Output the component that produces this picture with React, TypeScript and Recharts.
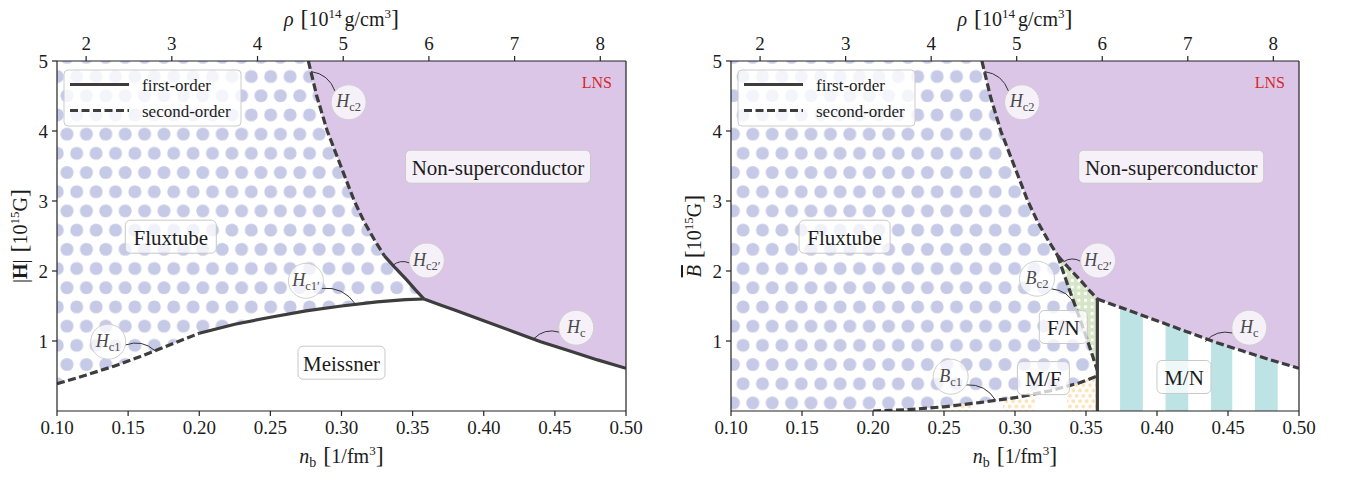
import React from 'react';
import { ComposedChart, Area, Line, XAxis, YAxis, ReferenceDot, ReferenceLine } from 'recharts';

// axes
const nbTicks = [0.1, 0.15, 0.2, 0.25, 0.3, 0.35, 0.4, 0.45, 0.5];
const fieldTicks = [1, 2, 3, 4, 5];
const rhoTicks = [2, 3, 4, 5, 6, 7, 8];
const RHO_PER_NB = 16.6; // 10^14 g/cm^3 per 1/fm^3
const FIELD_MAX = 5;

// phase boundaries: [n_b, field in 10^15 G]
const hc1 = [[0.1, 0.39], [0.12, 0.51], [0.14, 0.64], [0.16, 0.79], [0.18, 0.95], [0.2, 1.11]];
const hc1p = [[0.2, 1.11], [0.225, 1.24], [0.25, 1.34], [0.275, 1.43], [0.3, 1.5], [0.325, 1.56], [0.345, 1.59], [0.358, 1.6]];
const hc2 = [[0.2767, 5], [0.2826, 4.5], [0.29, 4.0], [0.2995, 3.5], [0.309, 3.0], [0.316, 2.7], [0.323, 2.45], [0.33, 2.22]];
const hc2p = [[0.33, 2.22], [0.338, 2.04], [0.346, 1.87], [0.352, 1.73], [0.358, 1.6]];
const hc = [[0.358, 1.6], [0.37, 1.51], [0.38, 1.44], [0.4, 1.29], [0.42, 1.14], [0.44, 0.99], [0.46, 0.86], [0.48, 0.73], [0.5, 0.61]];
const bc1 = [[0.2, 0], [0.225, 0.02], [0.25, 0.06], [0.275, 0.12], [0.3, 0.19], [0.325, 0.29], [0.345, 0.4], [0.358, 0.5]];
const bc2 = [[0.33, 2.22], [0.338, 1.75], [0.346, 1.3], [0.352, 0.95], [0.358, 0.58]];
const mfmn = [[0.358, 0], [0.358, 1.6]];

// domain stripes (n_b ranges)
const mfStripes = [[0.2015, 0.224], [0.2465, 0.269], [0.2915, 0.314], [0.3366, 0.358]];
const mnStripes = [[0.374, 0.39], [0.406, 0.422], [0.438, 0.453], [0.469, 0.485]];

const FONT = '"Liberation Serif", "DejaVu Serif", serif';
const INK = '#1c1c1c';
const LINE = '#3d3d3d';
const C = {
  purple: '#dcc6e8',
  dots: '#c7cae7',
  cyan: '#bde3e5',
  green: '#d5e5c6',
  orange: '#fde2b6',
};
const DASH = '8 3.5';
const LW = 3.2;

type Pt = { n: number; h: number };
const pts = (a: number[][]): Pt[] => a.map(([n, h]) => ({ n, h }));
const band = (lower: Pt[]) => lower.map((p) => ({ n: p.n, lo: p.h, hi: FIELD_MAX }));
const between = (lower: Pt[], upper: Pt[]) => lower.map((p, i) => ({ n: p.n, lo: p.h, hi: upper[i].h }));
const stripe = ([a, b]: number[]) => [
  { n: a, lo: 0, hi: FIELD_MAX },
  { n: b, lo: 0, hi: FIELD_MAX },
];

const boxes = {
  left: [
    { text: 'Non-superconductor', n: 0.41, h: 3.49, w: 185 },
    { text: 'Fluxtube', n: 0.18, h: 2.49, w: 91 },
    { text: 'Meissner', n: 0.3, h: 0.69, w: 87 },
  ],
  right: [
    { text: 'Non-superconductor', n: 0.41, h: 3.49, w: 185 },
    { text: 'Fluxtube', n: 0.18, h: 2.49, w: 91 },
    { text: 'F/N', n: 0.334, h: 1.2, w: 48 },
    { text: 'M/F', n: 0.32, h: 0.47, w: 52 },
    { text: 'M/N', n: 0.419, h: 0.486, w: 54 },
  ],
};

const bubbles = {
  left: [
    { sym: 'H', sub: 'c2', at: [0.305, 4.41], to: [0.2785, 4.85], bend: 0.3 },
    { sym: 'H', sub: 'c2′', at: [0.36, 2.15], to: [0.336, 2.08], bend: 0.3 },
    { sym: 'H', sub: 'c1′', at: [0.275, 1.86], to: [0.31, 1.52], bend: -0.3 },
    { sym: 'H', sub: 'c1', at: [0.136, 0.99], to: [0.169, 0.86], bend: -0.3 },
    { sym: 'H', sub: 'c', at: [0.465, 1.19], to: [0.435, 1.03], bend: 0.3 },
  ],
  right: [
    { sym: 'H', sub: 'c2', at: [0.305, 4.41], to: [0.2785, 4.85], bend: 0.3 },
    { sym: 'H', sub: 'c2′', at: [0.3585, 2.15], to: [0.334, 2.13], bend: 0.3 },
    { sym: 'B', sub: 'c2', at: [0.3155, 1.89], to: [0.3425, 1.5], bend: -0.3 },
    { sym: 'B', sub: 'c1', at: [0.2547, 0.49], to: [0.2865, 0.15], bend: -0.3 },
    { sym: 'H', sub: 'c', at: [0.465, 1.19], to: [0.434, 0.99], bend: 0.3 },
  ],
};

function TextBox({ cx, cy, text, w }: any) {
  return (
    <g>
      <rect x={cx - w / 2} y={cy - 16.5} width={w} height={33} rx={5} fill="#fff" fillOpacity={0.75} stroke="#c9c9c9" />
      <text x={cx} y={cy + 1} textAnchor="middle" dominantBaseline="central" fontSize={21} fill={INK} fontFamily={FONT}>
        {text}
      </text>
    </g>
  );
}

function Bubble({ x1, y1, x2, y2, sym, sub, bend }: any) {
  const r = 17.5;
  const dx = x2 - x1;
  const dy = y2 - y1;
  const len = Math.hypot(dx, dy) || 1;
  const sx = x1 + (dx / len) * r;
  const sy = y1 + (dy / len) * r;
  const ex = x2 - sx;
  const ey = y2 - sy;
  const qx = (sx + x2) / 2 - bend * ey;
  const qy = (sy + y2) / 2 + bend * ex;
  return (
    <g>
      <path d={`M${sx},${sy} Q${qx},${qy} ${x2},${y2}`} fill="none" stroke="#333" strokeWidth={1} />
      <ellipse cx={x1} cy={y1} rx={r} ry={r} fill="#fff" fillOpacity={0.75} stroke="#cfcfcf" />
      <text x={x1} y={y1 + 5} textAnchor="middle" fontFamily={FONT} fill="#4a4a4a">
        <tspan fontSize={18} fontStyle="italic">{sym}</tspan>
        <tspan fontSize={12.5} dy={4}>{sub}</tspan>
      </text>
    </g>
  );
}

function LegendBox({ cx, cy }: any) {
  const x = cx + 7;
  const y = cy + 9;
  return (
    <g fontFamily={FONT}>
      <rect x={x} y={y} width={177} height={56} rx={4} fill="#fff" fillOpacity={0.8} stroke="#cccccc" />
      <line x1={x + 6} x2={x + 65} y1={y + 14.5} y2={y + 14.5} stroke={LINE} strokeWidth={LW} />
      <text x={x + 78} y={y + 15} dominantBaseline="central" fontSize={17} fill={INK}>first-order</text>
      <line x1={x + 6} x2={x + 65} y1={y + 40.5} y2={y + 40.5} stroke={LINE} strokeWidth={LW} strokeDasharray={DASH} />
      <text x={x + 78} y={y + 41} dominantBaseline="central" fontSize={17} fill={INK}>second-order</text>
    </g>
  );
}

const TopTitle = ({ viewBox }: any) => (
  <text x={viewBox.x + viewBox.width / 2} y={viewBox.y + viewBox.height - 35} textAnchor="middle" fontFamily={FONT} fontSize={20} fill={INK}>
    <tspan fontStyle="italic">ρ</tspan>
    <tspan dx={7} fontSize={24}>[</tspan>
    <tspan>10</tspan>
    <tspan dy={-8} fontSize={13}>14</tspan>
    <tspan dy={8} dx={3}>g/cm</tspan>
    <tspan dy={-8} fontSize={13}>3</tspan>
    <tspan dy={8} fontSize={24}>]</tspan>
  </text>
);

const BottomTitle = ({ viewBox }: any) => (
  <text x={viewBox.x + viewBox.width / 2} y={viewBox.y + 52} textAnchor="middle" fontFamily={FONT} fontSize={20} fill={INK}>
    <tspan fontStyle="italic">n</tspan>
    <tspan dy={4} fontSize={14}>b</tspan>
    <tspan dy={-4} dx={7} fontSize={24}>[</tspan>
    <tspan>1/fm</tspan>
    <tspan dy={-8} fontSize={13}>3</tspan>
    <tspan dy={8} fontSize={24}>]</tspan>
  </text>
);

const sideTitle = (right: boolean) => ({ viewBox }: any) => {
  const x = viewBox.x + viewBox.width - 30;
  const y = viewBox.y + viewBox.height / 2;
  return (
    <text x={x} y={y} transform={`rotate(-90 ${x} ${y})`} textAnchor="middle" fontFamily={FONT} fontSize={20} fill={INK}>
      {right ? (
        <tspan fontStyle="italic" style={{ textDecoration: 'overline' }}>B</tspan>
      ) : (
        <>
          <tspan>|</tspan>
          <tspan fontWeight="bold">H</tspan>
          <tspan>|</tspan>
        </>
      )}
      <tspan dx={7} fontSize={24}>[</tspan>
      <tspan>10</tspan>
      <tspan dy={-8} fontSize={13}>15</tspan>
      <tspan dy={8}>G</tspan>
      <tspan fontSize={24}>]</tspan>
    </text>
  );
};

const tickStyle = { fontSize: 19, fill: INK, fontFamily: FONT };
const axisLine = { stroke: '#222', strokeWidth: 1.2 };

function Panel({ right }: { right: boolean }) {
  const id = right ? 'r' : 'l';
  // hatch phase, in this svg's pixels
  const dotsX = right ? 225.3 : 76.7;
  const dotsY = 153.3;
  const side = right ? 'right' : 'left';
  const solidOrDash = right ? DASH : undefined;
  const area = (key: string, data: any[], fill: string) => (
    <Area
      key={key}
      data={data}
      dataKey={(d: any) => [d.lo, d.hi]}
      type="linear"
      stroke="none"
      fill={fill}
      fillOpacity={1}
      dot={false}
      activeDot={false}
      isAnimationActive={false}
    />
  );
  const line = (key: string, data: number[][], dash?: string, xAxisId: string | number = 0) => (
    <Line
      key={key}
      xAxisId={xAxisId}
      data={pts(data)}
      dataKey="h"
      type="linear"
      stroke={LINE}
      strokeWidth={LW}
      strokeDasharray={dash}
      dot={false}
      activeDot={false}
      isAnimationActive={false}
    />
  );
  const fluxLower = right ? [{ n: nbTicks[0], h: 0 }, ...pts(bc1)] : [...pts(hc1), ...pts(hc1p)];

  return (
    <ComposedChart width={673} height={477} margin={{ top: 60, right: 46, bottom: 65, left: right ? 57 : 56 }}>
      <defs>
        <pattern id={`dots-${id}`} patternUnits="userSpaceOnUse" x={dotsX} y={dotsY} width={19.4} height={38.4}>
          <rect width={19.4} height={38.4} fill="#fff" />
          <circle cx={0} cy={0} r={6.5} fill={C.dots} />
          <circle cx={19.4} cy={0} r={6.5} fill={C.dots} />
          <circle cx={0} cy={38.4} r={6.5} fill={C.dots} />
          <circle cx={19.4} cy={38.4} r={6.5} fill={C.dots} />
          <circle cx={9.7} cy={19.2} r={6.5} fill={C.dots} />
        </pattern>
        <pattern id={`mf-${id}`} patternUnits="userSpaceOnUse" x={0} y={1} width={6.7} height={10.6}>
          <circle cx={1.7} cy={2.65} r={1.9} fill={C.orange} />
          <circle cx={8.4} cy={2.65} r={1.9} fill={C.orange} />
          <circle cx={5.05} cy={7.95} r={1.9} fill={C.orange} />
        </pattern>
        <pattern id={`fn-${id}`} patternUnits="userSpaceOnUse" x={0} y={0} width={6.6} height={6.6}>
          <rect width={6.6} height={6.6} fill={C.green} />
          <rect x={1.8} y={1.8} width={3} height={3} fill="#fff" />
        </pattern>
      </defs>

      <XAxis
        dataKey="n"
        type="number"
        domain={[0.1, 0.5]}
        ticks={nbTicks}
        interval={0}
        allowDataOverflow
        height={1}
        tickSize={5}
        tickMargin={5}
        tickFormatter={(v: number) => v.toFixed(2)}
        tick={tickStyle}
        axisLine={axisLine}
        tickLine={axisLine}
        label={<BottomTitle />}
      />
      <XAxis
        xAxisId="top"
        dataKey="n"
        orientation="top"
        type="number"
        domain={[0.1, 0.5]}
        ticks={rhoTicks.map((r) => r / RHO_PER_NB)}
        interval={0}
        allowDataOverflow
        height={1}
        tickSize={5}
        tickMargin={6}
        tickFormatter={(v: number) => String(Math.round(v * RHO_PER_NB))}
        tick={tickStyle}
        axisLine={axisLine}
        tickLine={axisLine}
        label={<TopTitle />}
      />
      <YAxis
        type="number"
        domain={[0, FIELD_MAX]}
        ticks={fieldTicks}
        interval={0}
        allowDataOverflow
        width={1}
        tickSize={5}
        tickMargin={4}
        tick={tickStyle}
        axisLine={axisLine}
        tickLine={axisLine}
        label={React.createElement(sideTitle(right))}
      />
      <YAxis yAxisId="r" orientation="right" type="number" domain={[0, FIELD_MAX]} width={1} tick={false} tickLine={false} axisLine={axisLine} />

      {right && mfStripes.map((s, i) => area(`mf${i}`, stripe(s), `url(#mf-${id})`))}
      {right && mnStripes.map((s, i) => area(`mn${i}`, stripe(s), C.cyan))}
      {area('flux', band(fluxLower), `url(#dots-${id})`)}
      {right && area('fn', between(pts(bc2), pts(hc2p)), `url(#fn-${id})`)}
      {area('ns', band([...pts(hc2), ...pts(hc2p), ...pts(hc)]), C.purple)}

      {right ? line('bc1', bc1, DASH) : line('hc1', hc1, DASH)}
      {right ? line('bc2', bc2, DASH) : line('hc1p', hc1p)}
      {line('hc2', hc2, DASH)}
      {line('hc2p', hc2p, solidOrDash)}
      {/* Hc is drawn on the density (top) axis, which shares the n_b mapping */}
      {line('hc', hc, solidOrDash, 'top')}
      {right && line('mfmn', mfmn)}

      <ReferenceDot x={0.1} y={FIELD_MAX} r={0} shape={(p: any) => <LegendBox cx={p.cx} cy={p.cy} />} />
      <ReferenceDot
        x={0.5}
        y={FIELD_MAX}
        r={0}
        shape={(p: any) => (
          <text x={p.cx - 14} y={p.cy + 27} textAnchor="end" fontSize={16} fill="#d62728" fontFamily={FONT}>LNS</text>
        )}
      />
      {boxes[side].map((b) => (
        <ReferenceDot key={b.text} x={b.n} y={b.h} r={0} shape={(p: any) => <TextBox cx={p.cx} cy={p.cy} text={b.text} w={b.w} />} />
      ))}
      {bubbles[side].map((b) => (
        <ReferenceLine
          key={b.sym + b.sub}
          segment={[{ x: b.at[0], y: b.at[1] }, { x: b.to[0], y: b.to[1] }]}
          shape={(p: any) => <Bubble x1={p.x1} y1={p.y1} x2={p.x2} y2={p.y2} sym={b.sym} sub={b.sub} bend={b.bend} />}
        />
      ))}
    </ComposedChart>
  );
}

export default function App() {
  return (
    <div style={{ position: 'relative', width: 1346, height: 477, background: '#fff', fontFamily: FONT }}>
      <style>{'body{margin:0}'}</style>
      <div style={{ position: 'absolute', left: 0, top: 0 }}>
        <Panel right={false} />
      </div>
      <div style={{ position: 'absolute', left: 673, top: 0 }}>
        <Panel right />
      </div>
    </div>
  );
}
